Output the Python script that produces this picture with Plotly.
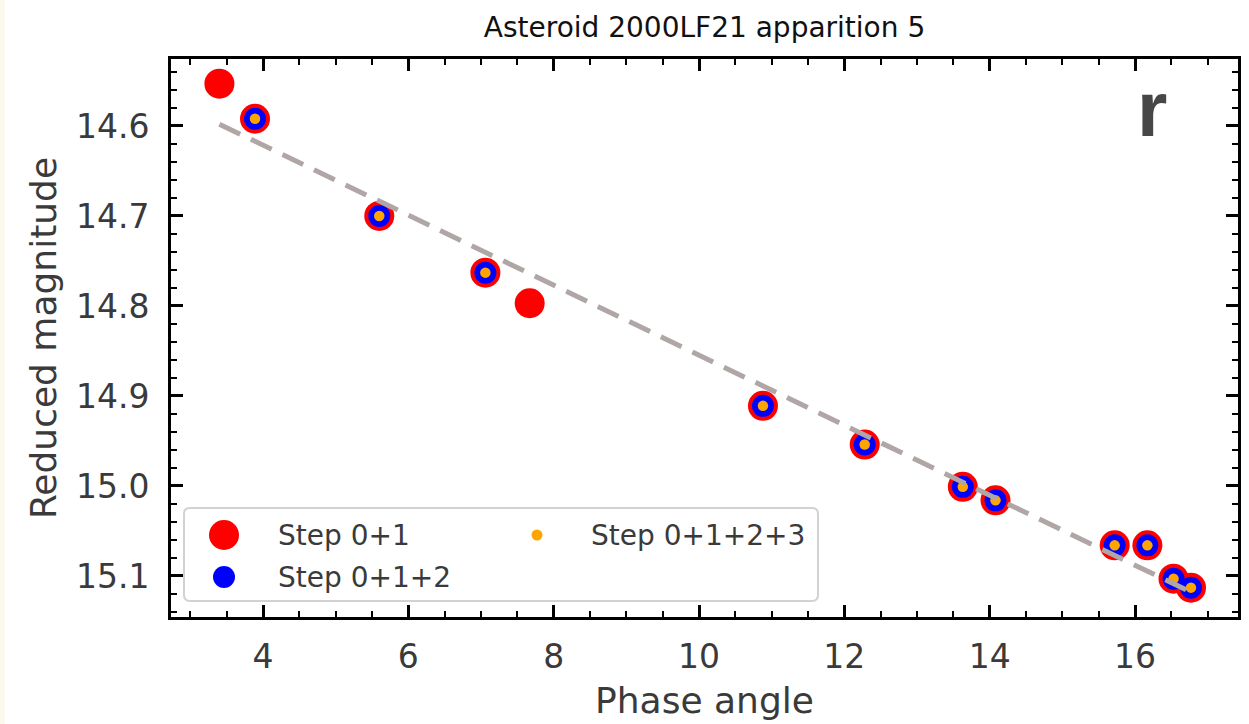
import plotly.graph_objects as go

# ---------------- data ----------------
phase_step01 = [3.40, 3.89, 5.60, 7.06, 7.67, 10.88, 12.28, 13.63, 14.08, 15.72, 16.17, 16.53, 16.77]
mag_step01 = [14.553, 14.592, 14.700, 14.763, 14.797, 14.911, 14.954, 15.001, 15.016, 15.066, 15.066, 15.103, 15.113]

phase_step012 = [3.89, 5.60, 7.06, 10.88, 12.28, 13.63, 14.08, 15.72, 16.17, 16.53, 16.77]
mag_step012 = [14.592, 14.700, 14.763, 14.911, 14.954, 15.001, 15.016, 15.066, 15.066, 15.103, 15.113]

phase_step0123 = [3.89, 5.60, 7.06, 10.88, 12.28, 13.63, 14.08, 15.72, 16.17, 16.53, 16.77]
mag_step0123 = [14.592, 14.700, 14.763, 14.911, 14.954, 15.001, 15.016, 15.066, 15.066, 15.103, 15.113]

fit_phase = [3.40, 16.77]
fit_mag = [14.598, 15.118]

x_ticks = [4, 6, 8, 10, 12, 14, 16]
y_ticks = [14.6, 14.7, 14.8, 14.9, 15.0, 15.1]

legend_labels = ["Step 0+1", "Step 0+1+2", "Step 0+1+2+3"]
title_text = "Asteroid 2000LF21 apparition 5"
band_label = "r"

# ---------------- geometry ----------------
W, H = 1249, 724
L, R, T, B = 171, 1238, 59, 617
ml, mr, mt, mb = L, W - R, T, H - B
pw, ph = R - L, B - T


def px_x(p):
    return (p - L) / pw


def px_y(p):
    return (B - p) / ph


FONT = "DejaVu Sans"
TXT = "#3a3a3a"
RED, BLUE, ORANGE = "#ff0000", "#0000ff", "#ffa500"

fig = go.Figure()

fig.add_trace(go.Scatter(x=phase_step01, y=mag_step01, mode="markers", name=legend_labels[0],
                         marker=dict(color=RED, size=30, line=dict(width=0)), showlegend=False))
fig.add_trace(go.Scatter(x=phase_step012, y=mag_step012, mode="markers", name=legend_labels[1],
                         marker=dict(color=BLUE, size=22, line=dict(width=0)), showlegend=False))
fig.add_trace(go.Scatter(x=phase_step0123, y=mag_step0123, mode="markers", name=legend_labels[2],
                         marker=dict(color=ORANGE, size=10.5, line=dict(width=0)), showlegend=False))
fig.add_trace(go.Scatter(x=fit_phase, y=fit_mag, mode="lines", name="fit",
                         line=dict(color="#b0a6a6", width=5, dash="23px,12px"), showlegend=False))

# custom legend keys on an invisible overlay axis (0..1 over the plot area)
leg_key_x = [px_x(224), px_x(224), px_x(537)]
leg_key_y = [px_y(535), px_y(577), px_y(535)]
leg_sizes = [30, 22, 11]
leg_colors = [RED, BLUE, ORANGE]
for i in range(3):
    fig.add_trace(go.Scatter(x=[leg_key_x[i]], y=[leg_key_y[i]], xaxis="x2", yaxis="y2",
                             mode="markers", marker=dict(color=leg_colors[i], size=leg_sizes[i]),
                             showlegend=False, hoverinfo="skip"))

axis_common = dict(
    showline=True, linecolor="black", linewidth=3, mirror="ticks",
    ticks="inside", ticklen=12, tickwidth=2.5, tickcolor="black",
    showgrid=False, zeroline=False,
    tickfont=dict(family=FONT, size=33, color=TXT),
)

fig.update_layout(
    width=W, height=H,
    margin=dict(l=ml, r=mr, t=mt, b=mb, autoexpand=False),
    paper_bgcolor="white", plot_bgcolor="white",
    showlegend=False,
    title=dict(text=title_text, x=px_x(704.5), xref="paper", xanchor="center",
               y=1 - 27 / H, yanchor="middle", yref="container",
               font=dict(family=FONT, size=28, color="#111111")),
    xaxis=dict(range=[2.734, 17.417], tickvals=x_ticks, ticktext=[str(v) for v in x_ticks],
               minor=dict(dtick=0.5, tick0=0, ticks="inside", ticklen=6, tickwidth=2, tickcolor="black"),
               ticklabelstandoff=8,
               title=dict(text="Phase angle", standoff=14,
                          font=dict(family=FONT, size=36, color=TXT)),
               **axis_common),
    yaxis=dict(range=[15.1456, 14.5256], tickvals=y_ticks, ticktext=[f"{v:.1f}" for v in y_ticks],
               minor=dict(dtick=0.02, tick0=14.0, ticks="inside", ticklen=6, tickwidth=2, tickcolor="black"),
               ticklabelstandoff=12,
               title=dict(text="Reduced magnitude", standoff=9,
                          font=dict(family=FONT, size=36, color=TXT)),
               **axis_common),
    xaxis2=dict(overlaying="x", range=[0, 1], visible=False, fixedrange=True),
    yaxis2=dict(overlaying="y", range=[0, 1], visible=False, fixedrange=True),
)

# legend box (rounded rectangle)
x0, x1 = px_x(184), px_x(818)
y0, y1 = px_y(601), px_y(508)
rx, ry = 6 / pw, 6 / ph
path = (f"M {x0+rx},{y0} L {x1-rx},{y0} Q {x1},{y0} {x1},{y0+ry} "
        f"L {x1},{y1-ry} Q {x1},{y1} {x1-rx},{y1} L {x0+rx},{y1} Q {x0},{y1} {x0},{y1-ry} "
        f"L {x0},{y0+ry} Q {x0},{y0} {x0+rx},{y0} Z")
fig.add_shape(type="path", path=path, xref="paper", yref="paper",
              fillcolor="white", line=dict(color="#d2d2d2", width=2), layer="below")

# cream strip at left edge
fig.add_shape(type="rect", xref="paper", yref="paper",
              x0=px_x(0), x1=px_x(5), y0=px_y(H), y1=px_y(0),
              fillcolor="#fcf8ee", line=dict(width=0), layer="below")

leg_text_x = [px_x(276), px_x(276), px_x(589)]
for i in range(3):
    fig.add_annotation(text=legend_labels[i], x=leg_text_x[i], y=leg_key_y[i], xref="paper", yref="paper",
                       xanchor="left", yanchor="middle", showarrow=False,
                       font=dict(family=FONT, size=28, color=TXT))

fig.add_annotation(text=f"<b>{band_label}</b>", x=px_x(1152), y=px_y(109), xref="paper", yref="paper",
                   xanchor="center", yanchor="middle", showarrow=False,
                   font=dict(family="Liberation Sans", size=78, color="#474747"))

fig.write_html("out.html")
